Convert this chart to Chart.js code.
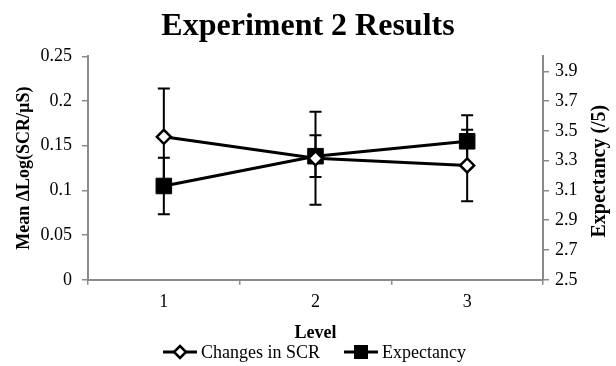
<!DOCTYPE html>
<html>
<head>
<meta charset="utf-8">
<script src="https://cdn.jsdelivr.net/npm/chart.js@4.4.1/dist/chart.umd.min.js"></script>
<style>
  html, body { margin: 0; padding: 0; background: #fff; }
  #wrap { width: 616px; height: 366px; }
</style>
</head>
<body>
<div id="wrap"><canvas id="chart"></canvas></div>
<script>
var levels = ["1", "2", "3"];
var scrMean = [0.160, 0.136, 0.128];
var scrErr = [0.054, 0.052, 0.040];
var expMean = [3.13, 3.33, 3.43];
var expErr = [0.19, 0.14, 0.175];
var leftTicks = [0, 0.05, 0.1, 0.15, 0.2, 0.25];
var rightTicks = [2.5, 2.7, 2.9, 3.1, 3.3, 3.5, 3.7, 3.9];
var seriesNames = ["Changes in SCR", "Expectancy"];

var serif = "'Liberation Serif', 'Times New Roman', serif";
var axisGrey = "#8a8a8a";

// error bars drawn behind the markers, through the chart's own scales
var errorBars = {
  id: "errorBars",
  beforeDatasetsDraw: function (chart) {
    var ctx = chart.ctx;
    var x = chart.scales.x;
    var sets = [
      { axis: chart.scales.y, mean: scrMean, err: scrErr },
      { axis: chart.scales.y1, mean: expMean, err: expErr },
    ];
    ctx.save();
    ctx.strokeStyle = "#000";
    ctx.lineWidth = 2;
    sets.forEach(function (s) {
      for (var i = 0; i < levels.length; i++) {
        var px = x.getPixelForValue(i);
        var top = s.axis.getPixelForValue(s.mean[i] + s.err[i]);
        var bot = s.axis.getPixelForValue(s.mean[i] - s.err[i]);
        ctx.beginPath();
        ctx.moveTo(px, top);
        ctx.lineTo(px, bot);
        ctx.moveTo(px - 6, top);
        ctx.lineTo(px + 6, top);
        ctx.moveTo(px - 6, bot);
        ctx.lineTo(px + 6, bot);
        ctx.stroke();
      }
    });
    ctx.restore();
  },
};

// right axis title (reads bottom to top) and the legend row
var extras = {
  id: "extras",
  afterDraw: function (chart) {
    var ctx = chart.ctx;
    var area = chart.chartArea;
    ctx.save();
    ctx.translate(600, (area.top + area.bottom) / 2 + 3);
    ctx.rotate(-Math.PI / 2);
    ctx.font = "bold 20px " + serif;
    ctx.fillStyle = "#000";
    ctx.textAlign = "center";
    ctx.textBaseline = "middle";
    ctx.fillText("Expectancy (/5)", 0, 0);
    ctx.restore();

    var y = 352;
    var items = [
      { x: 163, kind: "diamond", text: seriesNames[0] },
      { x: 344, kind: "square", text: seriesNames[1] },
    ];
    ctx.save();
    items.forEach(function (it) {
      ctx.strokeStyle = "#000";
      ctx.lineWidth = 3;
      ctx.beginPath();
      ctx.moveTo(it.x, y);
      ctx.lineTo(it.x + 34, y);
      ctx.stroke();
      var cx = it.x + 17;
      if (it.kind == "diamond") {
        ctx.fillStyle = "#fff";
        ctx.lineWidth = 2.5;
        ctx.beginPath();
        ctx.moveTo(cx, y - 6);
        ctx.lineTo(cx + 6, y);
        ctx.lineTo(cx, y + 6);
        ctx.lineTo(cx - 6, y);
        ctx.closePath();
        ctx.fill();
        ctx.stroke();
      } else {
        ctx.fillStyle = "#000";
        ctx.fillRect(cx - 7, y - 7, 14, 14);
      }
      ctx.fillStyle = "#000";
      ctx.font = "18px " + serif;
      ctx.textAlign = "left";
      ctx.textBaseline = "middle";
      ctx.fillText(it.text, it.x + 38, y + 1);
    });
    ctx.restore();
  },
};

var ctx = document.getElementById("chart");
var chart = new Chart(ctx, {
  type: "line",
  data: {
    labels: levels,
    datasets: [
      {
        label: seriesNames[0],
        data: scrMean,
        yAxisID: "y",
        borderColor: "#000",
        borderWidth: 3,
        pointStyle: "rectRot",
        pointRadius: 7,
        pointBackgroundColor: "#fff",
        pointBorderColor: "#000",
        pointBorderWidth: 2.5,
      },
      {
        label: seriesNames[1],
        data: expMean,
        yAxisID: "y1",
        borderColor: "#000",
        borderWidth: 3,
        pointStyle: "rect",
        pointRadius: 11,
        pointBackgroundColor: "#000",
        pointBorderColor: "#000",
        pointBorderWidth: 1,
      },
    ],
  },
  options: {
    responsive: true,
    maintainAspectRatio: false,
    animation: false,
    layout: { padding: { left: 0, right: 0, top: 0, bottom: 22 } },
    plugins: {
      tooltip: { enabled: false },
      legend: { display: false },
      title: {
        display: true,
        text: "Experiment 2 Results",
        color: "#000",
        font: { family: serif, size: 32, weight: "bold" },
        padding: { top: 8, bottom: 10 },
      },
    },
    scales: {
      x: {
        type: "category",
        offset: true,
        grid: {
          offset: true,
          drawOnChartArea: false,
          color: axisGrey,
          tickLength: 5,
          lineWidth: 1.5,
        },
        border: { color: axisGrey, width: 2 },
        ticks: { color: "#000", font: { family: serif, size: 18 }, padding: 7 },
        title: {
          display: true,
          text: "Level",
          color: "#000",
          font: { family: serif, size: 18, weight: "bold" },
          padding: { top: 2, bottom: 0 },
        },
      },
      y: {
        position: "left",
        min: 0,
        max: 0.25,
        afterBuildTicks: function (s) {
          s.ticks = leftTicks.map(function (v) { return { value: v }; });
        },
        afterFit: function (s) { s.width = 88; },
        grid: {
          drawOnChartArea: false,
          color: axisGrey,
          tickLength: 6,
          lineWidth: 1.5,
        },
        border: { color: axisGrey, width: 2 },
        ticks: {
          color: "#000",
          font: { family: serif, size: 18 },
          padding: 10,
          callback: function (v) { return String(Number(v.toFixed(2))); },
        },
        title: {
          display: true,
          text: "Mean ΔLog(SCR/µS)",
          color: "#000",
          font: { family: serif, size: 18, weight: "bold" },
          padding: { top: 14, bottom: 0 },
        },
      },
      y1: {
        position: "right",
        min: 2.5,
        max: 4.0,
        afterBuildTicks: function (s) {
          s.ticks = rightTicks.map(function (v) { return { value: v }; });
        },
        afterFit: function (s) { s.width = 73; },
        grid: {
          drawOnChartArea: false,
          color: axisGrey,
          tickLength: 6,
          lineWidth: 1.5,
        },
        border: { color: axisGrey, width: 2 },
        ticks: {
          color: "#000",
          font: { family: serif, size: 18 },
          padding: 6,
          callback: function (v) { return v.toFixed(1); },
        },
      },
    },
  },
  plugins: [errorBars, extras],
});
</script>
</body>
</html>
